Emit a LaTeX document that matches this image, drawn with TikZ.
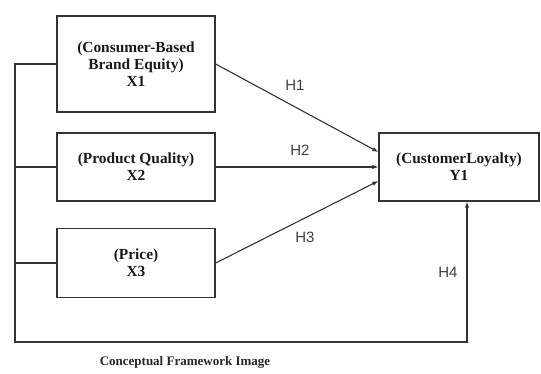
\documentclass[tikz,border=0pt]{standalone}
\usepackage{fontspec}
\setmainfont{Liberation Serif}
\setsansfont{Liberation Sans}
\usetikzlibrary{arrows.meta}

\begin{document}
\begin{tikzpicture}[x=1pt,y=-1pt,
    line width=1.1pt,color=black!80,
    varbox/.style={draw,line width=1.3pt,align=center,inner sep=2pt,
      font=\fontsize{15.4}{17}\selectfont\bfseries,text=black!90},
    link/.style={-{Latex[length=6pt,width=4.5pt]}},
    hyp/.style={font=\fontsize{15}{17}\sffamily,text=black!75}]
    \useasboundingbox (0,0) rectangle (541,374);
    % independent variables
    \node[varbox,minimum width=158pt,minimum height=96pt] (X1) at (136,64)
      {(Consumer-Based\\Brand Equity)\\X1};
    \node[varbox,minimum width=158pt,minimum height=68pt] (X2) at (136,167)
      {(Product Quality)\\X2};
    \node[varbox,minimum width=158pt,minimum height=69pt] (X3) at (136,263)
      {(Price)\\X3};
    % dependent variable
    \node[varbox,minimum width=160pt,minimum height=68pt] (Y1) at (459,167)
      {(CustomerLoyalty)\\Y1};
    % direct paths
    \draw[link] (X1.east) -- ([yshift=15pt]Y1.west);
    \draw[link] (X2.east) -- (Y1.west);
    \draw[link] (X3.east) -- ([yshift=-14pt]Y1.west);
    % joint path round the bottom
    \coordinate (busBot) at (15,342);
    \draw[link] (X1.west) -| (busBot) -| ([xshift=8pt]Y1.south);
    \foreach \v in {X2,X3} \draw (\v.west) -- (\v.west -| busBot);
    % hypothesis labels
    \node[hyp] (h1) at (295,85) {H1};
    \node[hyp] (h2) at (300,150) {H2};
    \node[hyp] (h3) at (305,237) {H3};
    \node[hyp] (h4) at (448,272) {H4};
    % caption
    \node[font=\fontsize{13}{15}\selectfont\bfseries,text=black!85] (cap) at (185,362)
      {Conceptual Framework Image};
\end{tikzpicture}
\end{document}
